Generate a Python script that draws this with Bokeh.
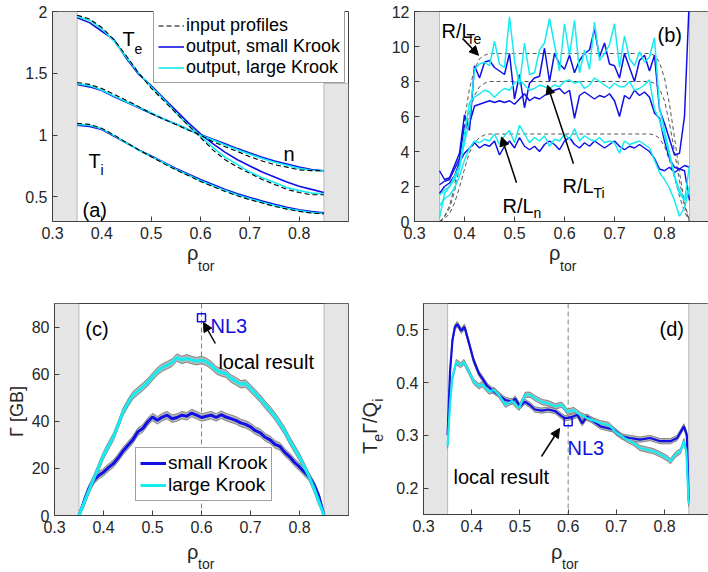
import math
from bokeh.plotting import figure
from bokeh.layouts import column, row
from bokeh.models import (Range1d, FixedTicker, BoxAnnotation, Label, Arrow, NormalHead,
                          Span, Legend, LegendItem, CustomJSTickFormatter, Div)
from bokeh.embed import file_html
from bokeh.resources import INLINE

# ---------------- data ----------------
x_ticks = [0.3, 0.4, 0.5, 0.6, 0.7, 0.8]

# (a) profiles
rho_a = [0.35, 0.375, 0.4, 0.425, 0.45, 0.475, 0.5, 0.525, 0.55, 0.575, 0.6,
         0.625, 0.65, 0.675, 0.7, 0.725, 0.75, 0.775, 0.8, 0.825, 0.85]
te_in = [1.97, 1.94, 1.87, 1.77, 1.64, 1.50, 1.38, 1.28, 1.18, 1.08, 0.98,
         0.88, 0.80, 0.74, 0.69, 0.64, 0.60, 0.56, 0.535, 0.516, 0.516]
te_small = [1.95, 1.91, 1.84, 1.77, 1.62, 1.49, 1.40, 1.30, 1.20, 1.10, 1.01,
            0.93, 0.86, 0.80, 0.75, 0.70, 0.66, 0.62, 0.585, 0.56, 0.535]
te_large = [1.96, 1.93, 1.86, 1.76, 1.63, 1.50, 1.39, 1.29, 1.18, 1.08, 0.99,
            0.90, 0.82, 0.76, 0.70, 0.655, 0.615, 0.575, 0.55, 0.53, 0.525]
n_in = [1.425, 1.41, 1.376, 1.33, 1.28, 1.23, 1.175, 1.13, 1.086, 1.04, 1.0,
        0.946, 0.906, 0.866, 0.825, 0.79, 0.76, 0.74, 0.718, 0.712, 0.712]
n_small = [1.41, 1.39, 1.36, 1.31, 1.265, 1.22, 1.175, 1.13, 1.09, 1.045, 1.005,
           0.965, 0.93, 0.89, 0.855, 0.82, 0.79, 0.765, 0.74, 0.72, 0.71]
n_large = [1.415, 1.40, 1.365, 1.315, 1.27, 1.225, 1.18, 1.13, 1.09, 1.045, 1.0,
           0.96, 0.92, 0.88, 0.845, 0.81, 0.78, 0.755, 0.73, 0.715, 0.71]
ti_in = [1.094, 1.086, 1.054, 1.0, 0.938, 0.879, 0.825, 0.77, 0.718, 0.672, 0.624,
         0.583, 0.543, 0.508, 0.476, 0.45, 0.422, 0.40, 0.382, 0.368, 0.363]
ti_small = [1.08, 1.07, 1.045, 0.99, 0.935, 0.88, 0.83, 0.78, 0.73, 0.685, 0.64,
            0.60, 0.56, 0.525, 0.495, 0.465, 0.44, 0.415, 0.395, 0.38, 0.37]
ti_large = [1.085, 1.08, 1.05, 0.995, 0.935, 0.877, 0.825, 0.775, 0.722, 0.677, 0.63,
            0.59, 0.55, 0.515, 0.484, 0.456, 0.43, 0.405, 0.388, 0.372, 0.365]

# (b) gradients
rho_b = [0.35, 0.36, 0.37, 0.38, 0.39, 0.40, 0.41, 0.42, 0.43, 0.44,
         0.45, 0.46, 0.47, 0.48, 0.49, 0.50, 0.51, 0.52, 0.53, 0.54,
         0.55, 0.56, 0.57, 0.58, 0.59, 0.60, 0.61, 0.62, 0.63, 0.64,
         0.65, 0.66, 0.67, 0.68, 0.69, 0.70, 0.71, 0.72, 0.73, 0.74,
         0.75, 0.76, 0.77, 0.78, 0.79, 0.80, 0.81, 0.82, 0.83, 0.84, 0.85]
rlte_small = [2.9, 2.4, 2.5, 3.2, 3.9, 6.1, 5.2, 8.9, 8.2, 9.1, 9.2, 8.8, 8.6, 8.4, 9.6,
              7.0, 8.4, 6.5, 7.9, 8.2, 8.3, 9.9, 8.0, 9.6, 9.0, 8.7, 9.5, 8.5, 9.2, 9.6,
              9.8, 11.0, 9.4, 10.2, 9.0, 8.9, 8.2, 9.6, 8.8, 8.0, 9.2, 9.5, 8.6, 9.5, 6.4,
              5.6, 4.7, 3.8, 3.9, 6.0, 13.0]
rlte_large = [0.2, 1.6, 2.0, 2.6, 3.2, 4.5, 5.8, 8.7, 9.0, 9.1, 8.9, 10.3, 9.0, 8.8, 11.7,
              9.2, 7.8, 10.2, 8.4, 8.5, 9.8, 10.2, 11.6, 10.1, 8.6, 11.3, 9.5, 11.5, 8.5, 9.8,
              8.7, 11.4, 9.2, 9.6, 10.1, 11.3, 8.8, 10.6, 9.3, 8.9, 9.7, 9.1, 9.4, 10.5, 6.5,
              5.2, 3.9, 2.6, 1.6, 1.2, 3.2]
rlti_small = [2.1, 2.3, 2.4, 3.0, 3.6, 5.5, 5.6, 6.6, 6.7, 6.8, 6.9, 6.8, 6.9, 6.8, 6.9,
              6.7, 7.0, 7.3, 6.9, 7.1, 7.0, 7.2, 7.4, 7.5, 7.6, 7.3, 7.5, 5.9, 7.2, 7.4,
              7.2, 7.0, 7.2, 7.1, 7.3, 6.9, 6.0, 7.2, 7.0, 7.5, 7.2, 7.4, 7.1, 6.2, 5.9,
              4.6, 3.6, 3.1, 3.0, 3.2, 3.1]
rlti_large = [1.5, 1.8, 2.0, 2.4, 3.0, 5.0, 6.8, 7.1, 7.3, 7.5, 7.4, 7.1, 7.4, 7.6, 7.5,
              7.9, 8.1, 7.8, 7.5, 7.6, 7.8, 7.7, 7.6, 7.8, 7.7, 8.0, 8.1, 7.9, 8.0, 7.6,
              7.8, 8.2, 8.0, 7.8, 7.6, 7.9, 7.7, 7.7, 8.0, 7.5, 7.6, 7.8, 8.1, 6.4, 5.8,
              4.9, 3.8, 2.6, 1.8, 1.2, 2.0]
rln_small = [1.6, 2.0, 2.2, 2.6, 3.4, 3.9, 4.2, 4.5, 4.2, 4.4, 4.3, 4.6, 3.8, 4.3, 4.6,
             4.2, 4.8, 4.3, 4.1, 4.3, 4.0, 4.4, 4.6, 4.4, 4.1, 4.6, 4.8, 4.4, 4.2, 4.5,
             4.3, 4.6, 4.4, 4.2, 4.4, 4.6, 4.3, 4.1, 4.3, 4.2, 4.4, 4.2, 4.0, 3.6, 3.0,
             2.9, 3.1, 2.8, 3.0, 2.9, 1.2]
rln_large = [0.9, 1.3, 1.5, 1.9, 2.6, 3.5, 4.2, 4.6, 4.5, 4.7, 4.6, 5.0, 4.4, 4.9, 5.2,
             4.5, 5.5, 5.0, 4.5, 4.8, 4.6, 4.9, 4.3, 4.7, 4.6, 5.0, 4.7, 5.3, 4.6, 4.9,
             4.7, 4.6, 4.8, 4.5, 4.6, 4.5, 3.9, 4.6, 4.4, 4.5, 4.6, 4.4, 4.2, 3.5, 2.8,
             2.4, 1.9, 1.2, 0.3, 0.8, 1.9]
rho_b_in = [0.35, 0.36, 0.37, 0.38, 0.39, 0.40, 0.41, 0.42, 0.43, 0.44,
            0.45, 0.77, 0.78, 0.79, 0.80, 0.81, 0.82, 0.83, 0.84, 0.85]
rlte_in = [0.0, 0.3, 0.9, 2.0, 3.7, 5.8, 7.6, 8.7, 9.3, 9.5, 9.6, 9.6, 9.5, 9.1, 8.2, 6.7, 4.8, 2.8, 1.1, 0.0]
rlti_in = [0.0, 0.25, 0.75, 1.7, 3.1, 4.8, 6.3, 7.2, 7.7, 7.9, 8.0, 8.0, 7.9, 7.6, 6.9, 5.6, 4.0, 2.3, 0.9, 0.0]
rln_in = [0.0, 0.15, 0.45, 1.05, 1.95, 3.0, 3.95, 4.5, 4.8, 4.95, 5.0, 5.0, 4.95, 4.75, 4.3, 3.5, 2.5, 1.45, 0.55, 0.0]

# (c) particle flux
rho_c = rho_b
gam_small = [0, 5.7, 11.3, 14.9, 17.0, 18.4, 20.3, 22.0, 24.5, 27.4, 29.8, 32.2, 35.5, 36.9, 39.7,
             41.8, 40.4, 41.8, 42.6, 41.1, 41.6, 42.6, 42.1, 43.5, 42.6, 41.6, 42.1, 42.6, 41.6, 42.8,
             41.8, 41.1, 40.4, 39.3, 38.7, 37.6, 36.0, 35.1, 33.2, 32.1, 30.2, 29.3, 26.8, 24.9, 22.5,
             20.6, 18.4, 16.3, 12.8, 7.8, 0]
gam_large = [0, 5.3, 10.6, 15.5, 20.5, 25.5, 29.5, 33.3, 38.5, 44.0, 47.8, 51.0, 52.8, 54.6, 56.5,
             58.9, 61.2, 62.8, 63.8, 64.9, 67.1, 66.0, 66.7, 66.0, 65.5, 66.0, 65.2, 63.8, 61.7, 60.8,
             60.2, 58.2, 57.0, 55.7, 56.0, 53.9, 51.8, 49.6, 47.0, 44.7, 42.1, 39.0, 35.8, 31.9, 28.3,
             24.8, 20.6, 16.3, 11.3, 5.7, 0]
gam_err = 1.6
nl3_c = (0.6, 84.0)

# (d) flux ratio
rho_d_small = [0.35, 0.355, 0.36, 0.365, 0.37, 0.3785, 0.385, 0.394, 0.404, 0.415, 0.422, 0.432, 0.442,
               0.456, 0.47, 0.484, 0.49, 0.5, 0.51, 0.52, 0.531, 0.545, 0.559, 0.573, 0.587, 0.594,
               0.608, 0.619, 0.629, 0.639, 0.653, 0.667, 0.681, 0.694, 0.711, 0.728, 0.749, 0.77,
               0.791, 0.812, 0.826, 0.84, 0.846, 0.85]
ratio_small = [0.30, 0.42, 0.48, 0.505, 0.511, 0.498, 0.506, 0.476, 0.442, 0.417, 0.408, 0.394, 0.386,
               0.377, 0.367, 0.364, 0.37, 0.355, 0.364, 0.358, 0.349, 0.347, 0.349, 0.346, 0.336, 0.3325,
               0.335, 0.339, 0.323, 0.336, 0.326, 0.317, 0.314, 0.311, 0.298, 0.295, 0.292, 0.295,
               0.289, 0.289, 0.295, 0.317, 0.301, 0.176]
rho_d_large = [0.35, 0.355, 0.36, 0.368, 0.377, 0.384, 0.394, 0.404, 0.415, 0.422, 0.436, 0.446, 0.456,
               0.47, 0.484, 0.498, 0.511, 0.521, 0.532, 0.546, 0.559, 0.573, 0.587, 0.598, 0.612, 0.625,
               0.639, 0.653, 0.667, 0.684, 0.7, 0.722, 0.735, 0.749, 0.763, 0.777, 0.791, 0.805, 0.812,
               0.823, 0.833, 0.84, 0.845, 0.85]
ratio_large = [0.28, 0.36, 0.41, 0.439, 0.433, 0.439, 0.421, 0.402, 0.393, 0.397, 0.383, 0.386, 0.377,
               0.358, 0.365, 0.352, 0.377, 0.377, 0.37, 0.363, 0.361, 0.355, 0.358, 0.345, 0.348, 0.339,
               0.333, 0.328, 0.323, 0.32, 0.305, 0.292, 0.286, 0.276, 0.273, 0.27, 0.264, 0.257, 0.251,
               0.264, 0.27, 0.289, 0.27, 0.17]
ratio_err = 0.005
nl3_d = (0.6, 0.326)

# ---------------- style ----------------
FONT = "Liberation Sans"
BLUE = "#1010e6"
CYAN = "#14ecf2"
AX = "#404040"
TXT = "#262626"
BOXC = "#e5e5e5"

# frame boxes in page pixels: left, right, top, bottom, xrange, yrange
FR = {
    "a": (52, 348, 11, 221, (0.3, 0.9), (0.3, 2.0)),
    "b": (414, 708, 11, 222, (0.3, 0.888), (0.0, 12.0)),
    "c": (52, 348, 303, 515, (0.3, 0.9), (0.0, 90.0)),
    "d": (423, 708, 303, 514, (0.3, 0.891), (0.15, 0.55)),
}


def to_data(k, px, py):
    l, r, t, b, xr, yr = FR[k]
    x = xr[0] + (px - l) / (r - l) * (xr[1] - xr[0])
    y = yr[0] + (b - py) / (b - t) * (yr[1] - yr[0])
    return x, y


def make_fig(k, width, height, x0, y0, yticks, right_box_top=None):
    l, r, t, b, xr, yr = FR[k]
    p = figure(width=width, height=height, x_range=Range1d(*xr), y_range=Range1d(*yr),
               output_backend="svg", toolbar_location=None,
               min_border_left=l - x0, min_border_right=(x0 + width) - r,
               min_border_top=t - y0, min_border_bottom=(y0 + height) - b)
    p.grid.visible = False
    p.outline_line_color = AX
    p.outline_line_width = 1
    fmt = CustomJSTickFormatter(code="return String(parseFloat(tick.toFixed(3)));")
    for ax, ticks in ((p.xaxis[0], x_ticks), (p.yaxis[0], yticks)):
        ax.ticker = FixedTicker(ticks=ticks)
        ax.formatter = fmt
        ax.major_tick_in = 5
        ax.major_tick_out = 0
        ax.minor_tick_line_color = None
        ax.axis_line_color = AX
        ax.major_tick_line_color = AX
        ax.major_label_text_font = FONT
        ax.major_label_text_font_size = "16px"
        ax.major_label_text_color = TXT
    p.xaxis.major_label_standoff = 5
    p.yaxis.major_label_standoff = 5
    # grey excluded boundary regions
    p.add_layout(BoxAnnotation(left=0.3, right=0.35, fill_color=BOXC, fill_alpha=1,
                               line_color=AX, line_width=1, level="underlay"))
    p.add_layout(BoxAnnotation(left=0.85, right=xr[1], top=right_box_top, fill_color=BOXC,
                               fill_alpha=1, line_color=AX, line_width=1, level="underlay"))
    return p


def txt(p, k, px, py, s, size=20, color="black"):
    x, y = to_data(k, px, py)
    p.add_layout(Label(x=x, y=y, text=s, text_font=FONT, text_font_size=f"{size}px",
                       text_color=color, text_baseline="alphabetic"))


def arrow(p, k, p0, p1):
    x0, y0 = to_data(k, *p0)
    x1, y1 = to_data(k, *p1)
    p.add_layout(Arrow(x_start=x0, y_start=y0, x_end=x1, y_end=y1, line_width=1.5,
                       line_color="black",
                       end=NormalHead(size=9, fill_color="black", line_color="black")))


def style_legend(lg, size, row_h):
    lg.label_text_font = FONT
    lg.label_text_font_size = size
    lg.label_text_color = "black"
    lg.border_line_color = AX
    lg.border_line_width = 1
    lg.background_fill_alpha = 1
    lg.padding = 4
    lg.spacing = 0
    lg.margin = 0
    lg.label_standoff = 2
    lg.glyph_width = 26
    lg.label_height = row_h
    lg.glyph_height = row_h


def base(size):
    # distance from top of a zero line-height box to the text baseline (Liberation Sans)
    return 0.3465 * size


SPAN = "position:absolute;white-space:nowrap;line-height:0;font-family:'Liberation Sans';color:#262626;"


def xlabel_div(width, height, div_top, px_rho, base_rho, base_tor, x0):
    t1 = base_rho - div_top - base(20)
    t2 = base_tor - div_top - base(14)
    html = (f'<div style="position:relative;width:{width}px;height:{height}px;">'
            f'<span style="{SPAN}left:{px_rho - x0}px;top:{t1:.1f}px;font-size:20px;">ρ</span>'
            f'<span style="{SPAN}left:{px_rho + 11 - x0}px;top:{t2:.1f}px;font-size:14px;">tor</span>'
            f'</div>')
    return Div(text=html, width=width, height=height, margin=0)


def ylabel_div(width, height, div_x, div_y, base_x, start_y, inner, size):
    left = base_x - div_x - base(size)
    top = start_y - div_y
    html = (f'<div style="position:relative;width:{width}px;height:{height}px;">'
            f'<span style="{SPAN}left:{left:.1f}px;top:{top}px;font-size:{size}px;'
            f'transform:rotate(-90deg);transform-origin:0 0;">{inner}</span></div>')
    return Div(text=html, width=width, height=height, margin=0)


# ---------------- panel (a) ----------------
pa = make_fig("a", 362, 247, 0, 0, [0.5, 1.0, 1.5, 2.0], right_box_top=to_data("a", 0, 83)[1])
lw = 1.6
for ys in (te_small, n_small, ti_small):
    rb = pa.line(rho_a, ys, line_color=BLUE, line_width=lw)
for ys in (te_large, n_large, ti_large):
    rc = pa.line(rho_a, ys, line_color=CYAN, line_width=lw)
for ys in (te_in, n_in, ti_in):
    rd = pa.line(rho_a, ys, line_color="black", line_width=1.1, line_dash="5 3")
lg_a = Legend(items=[LegendItem(label="input profiles", renderers=[rd]),
                     LegendItem(label="output, small Krook", renderers=[rb]),
                     LegendItem(label="output, large Krook", renderers=[rc])],
              location=(101, 138))
style_legend(lg_a, "18px", 21)
pa.add_layout(lg_a)
txt(pa, "a", 122, 38, "T")
txt(pa, "a", 134, 48, "e", size=14)
txt(pa, "a", 88, 160, "T")
txt(pa, "a", 100, 169, "i", size=14)
txt(pa, "a", 283, 153, "n")
txt(pa, "a", 82, 209, "(a)")

# ---------------- panel (b) ----------------
pb = make_fig("b", 346, 247, 362, 0, [0, 2, 4, 6, 8, 10, 12])
for ys in (rlte_in, rlti_in, rln_in):
    pb.line(rho_b_in, ys, line_color="#555555", line_width=1, line_dash="4 3")
for ys in (rlte_small, rlti_small, rln_small):
    pb.line(rho_b, ys, line_color=BLUE, line_width=1.5)
for ys in (rlte_large, rlti_large, rln_large):
    pb.line(rho_b, ys, line_color=CYAN, line_width=1.5)
txt(pb, "b", 441, 31, "R/L")
txt(pb, "b", 466, 39, "Te", size=14)
arrow(pb, "b", (462, 38), (478, 55))
txt(pb, "b", 562, 186, "R/L")
txt(pb, "b", 593, 193, "Ti", size=14)
arrow(pb, "b", (573, 164), (547, 85))
txt(pb, "b", 502, 206, "R/L")
txt(pb, "b", 533, 213, "n", size=14)
arrow(pb, "b", (516, 183), (501, 137))
txt(pb, "b", 657, 35, "(b)")

# ---------------- panel (c) ----------------
pc = make_fig("c", 334, 254, 28, 286, [0, 20, 40, 60, 80])
pc.add_layout(Span(location=0.6, dimension="height", line_color="#808080", line_width=1,
                   line_dash="5 3", level="underlay"))
for ys in (gam_large, gam_small):
    lo = [v - gam_err if 0 < v else v for v in ys]
    hi = [v + gam_err if 0 < v else v for v in ys]
    pc.varea(x=rho_c, y1=lo, y2=hi, fill_color="#b8b8b8", fill_alpha=1)
    pc.line(rho_c, lo, line_color="#707070", line_width=0.8)
    pc.line(rho_c, hi, line_color="#707070", line_width=0.8)
r_cs = pc.line(rho_c, gam_small, line_color=BLUE, line_width=3)
r_cl = pc.line(rho_c, gam_large, line_color=CYAN, line_width=3)
pc.scatter([nl3_c[0]], [nl3_c[1]], marker="square", size=8, fill_color=None,
           line_color=BLUE, line_width=1.5)
lg_c = Legend(items=[LegendItem(label="small Krook", renderers=[r_cs]),
                     LegendItem(label="large Krook", renderers=[r_cl])],
              location=(81, 14))
style_legend(lg_c, "19px", 22)
pc.add_layout(lg_c)
txt(pc, "c", 83, 328, "(c)")
txt(pc, "c", 209, 325, "NL3", color=BLUE)
txt(pc, "c", 217, 361, "local result")
arrow(pc, "c", (214, 343), (202, 322))

# ---------------- panel (d) ----------------
pd_ = make_fig("d", 316, 254, 392, 286, [0.2, 0.3, 0.4, 0.5])
pd_.add_layout(Span(location=0.6, dimension="height", line_color="#808080", line_width=1,
                    line_dash="5 3", level="underlay"))
for xs, ys in ((rho_d_large, ratio_large), (rho_d_small, ratio_small)):
    lo = [v - ratio_err for v in ys]
    hi = [v + ratio_err for v in ys]
    pd_.varea(x=xs, y1=lo, y2=hi, fill_color="#b8b8b8", fill_alpha=1)
    pd_.line(xs, lo, line_color="#707070", line_width=0.8)
    pd_.line(xs, hi, line_color="#707070", line_width=0.8)
pd_.line(rho_d_small, ratio_small, line_color=BLUE, line_width=2.2)
pd_.line(rho_d_large, ratio_large, line_color=CYAN, line_width=2.2)
pd_.scatter([nl3_d[0]], [nl3_d[1]], marker="square", size=8, fill_color=None,
            line_color=BLUE, line_width=1.5)
txt(pd_, "d", 659, 328, "(d)")
txt(pd_, "d", 567, 447, "NL3", color=BLUE)
txt(pd_, "d", 453, 476, "local result")
arrow(pd_, "d", (541, 456), (559, 428))

# ---------------- axis-label strips ----------------
xa = xlabel_div(362, 39, 247, 187, 260, 271, 0)
xb = xlabel_div(346, 39, 247, 549, 260, 271, 362)
xc = xlabel_div(334, 32, 540, 187, 559, 569, 28)
xd = xlabel_div(316, 32, 540, 551, 559, 569, 392)
sub = "position:relative;top:6px;font-size:14px;"
yc = ylabel_div(28, 286, 0, 286, 23, 437, "Γ [GB]", 18)
yd = ylabel_div(30, 286, 362, 286, 377, 454,
                f'T<span style="{sub}">e</span>Γ/Q<span style="{sub}">i</span>', 20)

layout = column(
    row(pa, pb),
    row(xa, xb),
    row(yc, column(pc, xc), yd, column(pd_, xd)),
)
open("out.html", "w").write(file_html(layout, INLINE))
